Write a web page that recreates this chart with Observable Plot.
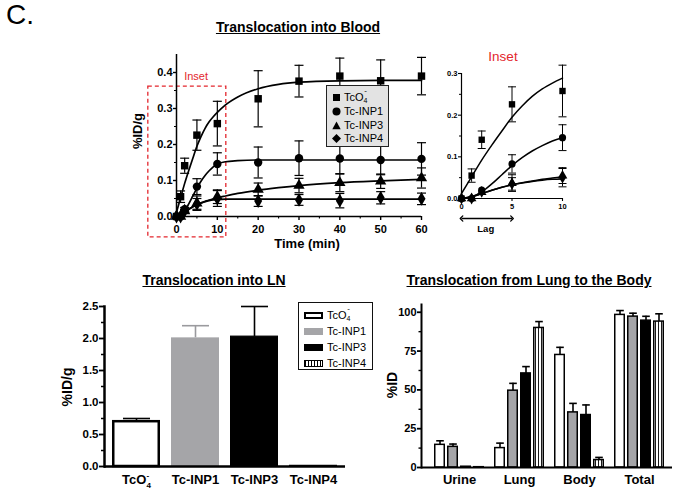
<!DOCTYPE html>
<html><head><meta charset="utf-8">
<script src="https://cdn.jsdelivr.net/npm/d3@7"></script>
<script src="https://cdn.jsdelivr.net/npm/@observablehq/plot@0.6"></script>
<style>
html,body{margin:0;padding:0;background:#fff;}
#root{position:relative;width:681px;height:493px;overflow:hidden;font-family:"Liberation Sans",Arial,sans-serif;color:#000;}
.abs{position:absolute;}
.abs svg{overflow:visible;}
.title{font-weight:bold;font-size:14px;text-decoration:underline;white-space:nowrap;transform:translate(-50%,-50%);line-height:1;}
.ylab{font-weight:bold;white-space:nowrap;transform:translate(-50%,-50%) rotate(-90deg);line-height:1;}
.xlab{font-weight:bold;white-space:nowrap;transform:translate(-50%,-50%);line-height:1;}
.tc{position:relative;display:inline-block;}
.tc .sub{font-size:7px;position:relative;top:2px;}
.tc .sup{font-size:8px;position:absolute;right:0.5px;top:-5px;}
.leg1{background:#e3e3e3;border:1px solid #222;font-size:11px;box-sizing:border-box;padding-top:5px;}
.leg1 .row{display:flex;align-items:center;height:13.7px;white-space:nowrap;line-height:1;}
.leg1 svg{margin-left:5px;margin-right:3px;}
.leg2{background:#fff;border:1.5px solid #111;font-size:11px;box-sizing:border-box;padding-top:4px;}
.leg2 .row{display:flex;align-items:center;height:16px;white-space:nowrap;line-height:1;}
.leg2 .sw{width:19px;height:7px;box-sizing:border-box;margin-left:5px;margin-right:4px;}
</style></head><body>
<svg width="0" height="0" style="position:absolute"><defs>
<pattern id="stripes" width="3" height="4" patternUnits="userSpaceOnUse"><rect width="3" height="4" fill="white"/><line x1="1.5" y1="0" x2="1.5" y2="4" stroke="black" stroke-width="0.9"/></pattern>
</defs></svg>
<div id="root"></div>
<script>
// ---------- data ----------
const seriesKeys = ["TcO4", "INP1", "INP3", "INP4"];
const seriesLabels = ["TcO4-", "Tc-INP1", "Tc-INP3", "Tc-INP4"];

// Translocation into blood (%ID/g) vs time (min)
const times = [0, 1, 2, 5, 10, 20, 30, 40, 50, 60];
const bloodTcO4 = [0, 0.055, 0.141, 0.226, 0.258, 0.327, 0.376, 0.390, 0.377, 0.390];
const bloodTcO4Err = [0, 0.016, 0.021, 0.042, 0.062, 0.078, 0.044, 0.050, 0.058, 0.052];
const bloodINP1 = [0, 0, 0.020, 0.083, 0.146, 0.150, 0.162, 0.161, 0.157, 0.160];
const bloodINP1Err = [0, 0, 0.005, 0.022, 0.031, 0.043, 0.048, 0.043, 0.041, 0.045];
const bloodINP3 = [0, 0, 0.015, 0.037, 0.055, 0.075, 0.086, 0.094, 0.098, 0.107];
const bloodINP3Err = [0, 0, 0.004, 0.020, 0.019, 0.018, 0.020, 0.025, 0.020, 0.028];
const bloodINP4 = [0, 0, 0.016, 0.035, 0.050, 0.043, 0.046, 0.044, 0.052, 0.049];
const bloodINP4Err = [0, 0, 0.004, 0.015, 0.022, 0.015, 0.015, 0.020, 0.017, 0.016];

// fitted curves
const fitTimes = [0, 1, 2, 3, 4, 5, 6, 7, 8, 9, 10, 12, 15, 20, 25, 30, 40, 50, 60];
const fitTcO4 = [0.012, 0.052, 0.092, 0.128, 0.162, 0.195, 0.222, 0.245, 0.263, 0.277, 0.289, 0.310, 0.332, 0.355, 0.367, 0.373, 0.377, 0.378, 0.378];
const fitINP1 = [0, 0.004, 0.016, 0.035, 0.057, 0.079, 0.098, 0.114, 0.127, 0.138, 0.146, 0.152, 0.155, 0.157, 0.157, 0.157, 0.157, 0.157, 0.157];
const fitINP3 = [0, 0.004, 0.012, 0.020, 0.027, 0.033, 0.038, 0.042, 0.046, 0.049, 0.052, 0.057, 0.064, 0.073, 0.080, 0.086, 0.094, 0.099, 0.103];
const fitINP4 = [0, 0.004, 0.012, 0.020, 0.027, 0.033, 0.037, 0.041, 0.044, 0.046, 0.047, 0.048, 0.048, 0.048, 0.048, 0.048, 0.048, 0.048, 0.048];

// Translocation into LN (%ID/g)
const lnValues = [0.70, 2.01, 2.03, 0.01];
const lnErrors = [0.05, 0.19, 0.47, 0];

// Translocation from lung to the body (%ID)
const bodyGroups = ["Urine", "Lung", "Body", "Total"];
const bodyTcO4 = [14.6, 12.5, 72.5, 98.3];
const bodyTcO4Err = [2.6, 3.2, 4.9, 2.8];
const bodyINP1 = [13.3, 49.5, 35.5, 97.2];
const bodyINP1Err = [1.8, 4.7, 5.8, 2.2];
const bodyINP3 = [0.5, 60.6, 33.8, 94.6];
const bodyINP3Err = [0, 4.4, 6.5, 2.8];
const bodyINP4 = [0.2, 89.9, 4.8, 94.0];
const bodyINP4Err = [0, 4.1, 1.7, 5.0];

// ---------- tables ----------
const bloodVals = {TcO4: bloodTcO4, INP1: bloodINP1, INP3: bloodINP3, INP4: bloodINP4};
const bloodErrs = {TcO4: bloodTcO4Err, INP1: bloodINP1Err, INP3: bloodINP3Err, INP4: bloodINP4Err};
const fitVals = {TcO4: fitTcO4, INP1: fitINP1, INP3: fitINP3, INP4: fitINP4};
const bodyVals = {TcO4: bodyTcO4, INP1: bodyINP1, INP3: bodyINP3, INP4: bodyINP4};
const bodyErrs = {TcO4: bodyTcO4Err, INP1: bodyINP1Err, INP3: bodyINP3Err, INP4: bodyINP4Err};

const bloodRows = seriesKeys.flatMap(k => times.map((t, j) => ({series: k, t, v: bloodVals[k][j], e: bloodErrs[k][j]})));
const fitRows = seriesKeys.flatMap(k => fitTimes.map((t, j) => ({series: k, t, v: fitVals[k][j]})));
const lnRows = seriesKeys.map((k, i) => ({series: k, v: lnValues[i], e: lnErrors[i]}));
const bodyRows = bodyGroups.flatMap((g, gi) => seriesKeys.map(k => ({group: g, series: k, v: bodyVals[k][gi], e: bodyErrs[k][gi]})));
const labelOf = Object.fromEntries(seriesKeys.map((k, i) => [k, seriesLabels[i]]));

// ---------- styling helpers ----------
const FONT = "'Liberation Sans', Arial, Helvetica, sans-serif";
const plotStyle = {fontFamily: FONT, background: "transparent", overflow: "visible", color: "black"};
const RED = "#e3262d";
const GRAY = "#a5a5a8";
const seriesSymbols = ["square", "circle", "triangle", "diamond"];
const capSymbol = {draw(ctx, size) { const r = Math.sqrt(size / Math.PI); ctx.moveTo(-r, 0); ctx.lineTo(r, 0); }};
const blank = () => "";

const root = document.getElementById("root");
function place(el, left, top, w, h) {
  const d = document.createElement("div");
  d.className = "abs";
  d.style.left = left + "px"; d.style.top = top + "px";
  if (w) d.style.width = w + "px";
  if (h) d.style.height = h + "px";
  d.appendChild(el); root.appendChild(d); return d;
}
function html(s, left, top) {
  const d = document.createElement("div");
  d.className = "abs"; d.style.left = left + "px"; d.style.top = top + "px";
  d.innerHTML = s; root.appendChild(d); return d;
}
function fixTcO4(svg, fs) {
  const ns = "http://www.w3.org/2000/svg";
  svg.querySelectorAll("text").forEach(t => {
    if (t.textContent === "TcO4-") {
      t.textContent = "TcO";
      const s1 = document.createElementNS(ns, "tspan");
      s1.setAttribute("dy", fs * 0.3); s1.setAttribute("font-size", fs * 0.62); s1.textContent = "4";
      const s2 = document.createElementNS(ns, "tspan");
      s2.setAttribute("dx", -fs * 0.33); s2.setAttribute("dy", -fs * 0.72); s2.setAttribute("font-size", fs * 0.62); s2.textContent = "-";
      t.appendChild(s1); t.appendChild(s2);
    }
  });
}

// ---------- main blood chart ----------
const insetBox = {x1: -6.9, x2: 12.2, y1: -0.058, y2: 0.361};
const mainPlot = Plot.plot({
  width: 320, height: 215, marginLeft: 56, marginRight: 19, marginTop: 14, marginBottom: 39,
  style: plotStyle,
  x: {domain: [0, 60]},
  y: {domain: [0, 0.45]},
  symbol: {domain: seriesKeys, range: seriesSymbols},
  marks: [
    Plot.rect([insetBox], {x1: "x1", x2: "x2", y1: "y1", y2: "y2", fill: "none", stroke: RED, strokeWidth: 1.3, strokeDasharray: "4,3"}),
    Plot.text(["Inset"], {x: 4.8, y: 0.389, fill: RED, fontSize: 11}),
    Plot.line(fitRows, {x: "t", y: "v", z: "series", stroke: "black", strokeWidth: 1.7, curve: "monotone-x"}),
    Plot.ruleX(bloodRows.filter(d => d.e > 0), {x: "t", y1: d => d.v - d.e, y2: d => d.v + d.e, stroke: "black", strokeWidth: 1.2}),
    Plot.dot(bloodRows.filter(d => d.e > 0), {x: "t", y: d => d.v + d.e, symbol: capSymbol, r: 4.5, fill: "none", stroke: "black", strokeWidth: 1.2}),
    Plot.dot(bloodRows.filter(d => d.e > 0), {x: "t", y: d => d.v - d.e, symbol: capSymbol, r: 4.5, fill: "none", stroke: "black", strokeWidth: 1.2}),
    Plot.dot(bloodRows, {x: "t", y: "v", symbol: "series", r: 4.2, fill: "black"}),
    Plot.ruleY([0], {strokeWidth: 1.5}),
    Plot.ruleX([0], {strokeWidth: 1.5}),
    Plot.axisX({ticks: [0, 10, 20, 30, 40, 50, 60], tickSize: 4, tickPadding: 4.5, fontSize: 11, fontWeight: "bold", label: null, strokeWidth: 1.4}),
    Plot.axisX({ticks: [5, 15, 25, 35, 45, 55], tickSize: 2.5, tickFormat: blank, label: null, strokeWidth: 1.1}),
    Plot.axisY({ticks: [0, 0.1, 0.2, 0.3, 0.4], tickFormat: d3.format(".1f"), tickSize: 3, tickPadding: 1, fontSize: 11, fontWeight: "bold", label: null, strokeWidth: 1.4}),
    Plot.axisY({ticks: [0.05, 0.15, 0.25, 0.35], tickSize: 2, tickFormat: blank, label: null, strokeWidth: 1.1})
  ]
});
place(mainPlot, 120, 40, 320, 215);

// ---------- inset chart ----------
const lagSpan = {x1: 0, x2: 5};
const insetRows = bloodRows.filter(d => d.t <= 10);
const insetFit = fitRows.filter(d => d.t <= 10);
const insetPlot = Plot.plot({
  width: 150, height: 185, marginLeft: 31, marginRight: 18, marginTop: 18, marginBottom: 42,
  style: plotStyle,
  x: {domain: [0, 10]},
  y: {domain: [0, 0.3]},
  symbol: {domain: seriesKeys, range: seriesSymbols},
  marks: [
    Plot.line(insetFit, {x: "t", y: "v", z: "series", stroke: "black", strokeWidth: 1.5, curve: "monotone-x"}),
    Plot.ruleX(insetRows.filter(d => d.e > 0.005), {x: "t", y1: d => d.v - d.e, y2: d => d.v + d.e, stroke: "black", strokeWidth: 1}),
    Plot.dot(insetRows.filter(d => d.e > 0.005), {x: "t", y: d => d.v + d.e, symbol: capSymbol, r: 4, fill: "none", stroke: "black", strokeWidth: 1}),
    Plot.dot(insetRows.filter(d => d.e > 0.005), {x: "t", y: d => d.v - d.e, symbol: capSymbol, r: 4, fill: "none", stroke: "black", strokeWidth: 1}),
    Plot.dot(insetRows, {x: "t", y: "v", symbol: "series", r: 3.6, fill: "black"}),
    Plot.ruleY([0], {strokeWidth: 1.2}),
    Plot.ruleX([0], {strokeWidth: 1.2}),
    Plot.axisX({ticks: [0, 5, 10], tickSize: 3, tickPadding: 2, fontSize: 7.5, fontWeight: "bold", label: null, strokeWidth: 1.1}),
    Plot.axisY({ticks: [0, 0.1, 0.2, 0.3], tickFormat: d3.format(".1f"), tickSize: 3, tickPadding: 1, fontSize: 7.5, fontWeight: "bold", label: null, strokeWidth: 1.1}),
    Plot.axisY({ticks: [0.05, 0.15, 0.25], tickSize: 2, tickFormat: blank, label: null, strokeWidth: 1}),
    Plot.link([lagSpan], {x1: "x1", x2: "x2", y1: -0.048, y2: -0.048, stroke: "black", strokeWidth: 1.3, markerStart: "arrow-reverse", markerEnd: "arrow"}),
    Plot.text(["Lag"], {x: 2.4, y: -0.072, fontSize: 9.5, fontWeight: "bold"})
  ]
});
place(insetPlot, 430, 55, 150, 185);

// ---------- LN bar chart ----------
const lnStyle = {
  TcO4: {fill: "white", stroke: "black", sw: 2.5, err: "black"},
  INP1: {fill: GRAY, stroke: "none", sw: 0, err: "#9a9a9e"},
  INP3: {fill: "black", stroke: "black", sw: 1, err: "black"},
  INP4: {fill: "url(#stripes)", stroke: "black", sw: 1.2, err: "black"}
};
const lnErrRows = lnRows.filter(d => d.e > 0);
const lnPlot = Plot.plot({
  width: 310, height: 200, marginLeft: 64, marginRight: 5, marginTop: 16, marginBottom: 24,
  style: plotStyle,
  x: {domain: seriesKeys, paddingInner: 0.18, paddingOuter: 0.12},
  y: {domain: [0, 2.5]},
  marks: [
    Plot.ruleX(lnErrRows, {x: "series", y1: "v", y2: d => d.v + d.e, stroke: d => lnStyle[d.series].err, strokeWidth: 1.6}),
    Plot.dot(lnErrRows, {x: "series", y: d => d.v + d.e, symbol: capSymbol, r: 13.5, fill: "none", stroke: d => lnStyle[d.series].err, strokeWidth: 1.6}),
    ...seriesKeys.map(k => Plot.barY(lnRows, {filter: d => d.series === k, x: "series", y: "v", fill: lnStyle[k].fill, stroke: lnStyle[k].stroke, strokeWidth: lnStyle[k].sw, insetLeft: lnStyle[k].sw / 2, insetRight: lnStyle[k].sw / 2})),
    Plot.ruleY([0], {strokeWidth: 2.5}),
    Plot.frame({anchor: "left", strokeWidth: 2.5}),
    Plot.axisY({ticks: [0, 0.5, 1, 1.5, 2, 2.5], tickFormat: d3.format(".1f"), tickSize: 5, tickPadding: 1, fontSize: 11.5, fontWeight: "bold", label: null, strokeWidth: 1.8}),
    Plot.axisY({ticks: [0.25, 0.75, 1.25, 1.75, 2.25], tickSize: 3, tickFormat: blank, label: null, strokeWidth: 1.5}),
    Plot.axisX({tickSize: 0, tickPadding: 8, fontSize: 13, fontWeight: "bold", label: null, tickFormat: k => labelOf[k]})
  ]
});
fixTcO4(lnPlot, 13);
place(lnPlot, 40, 290, 310, 200);

// ---------- body chart: axes layer ----------
const bodyAxes = Plot.plot({
  width: 311, height: 200, marginLeft: 51, marginRight: 9, marginTop: 14, marginBottom: 23,
  style: plotStyle,
  y: {domain: [0, 105]},
  marks: [
    Plot.axisY({ticks: [0, 25, 50, 75, 100], tickSize: 4, tickPadding: 1, fontSize: 11, fontWeight: "bold", label: null, strokeWidth: 1.8}),
    Plot.axisY({ticks: [12.5, 37.5, 62.5, 87.5], tickSize: 2.5, tickFormat: blank, label: null, strokeWidth: 1.4})
  ]
});
// body chart: bars layer
const bodyBars = Plot.plot({
  width: 311, height: 200, marginLeft: 51, marginRight: 9, marginTop: 14, marginBottom: 23,
  style: plotStyle,
  fx: {domain: bodyGroups, paddingInner: 0, paddingOuter: 0.067, align: 0.755, label: null},
  x: {domain: seriesKeys, paddingInner: 0.15, paddingOuter: 0.28, axis: null},
  y: {domain: [0, 105], axis: null},
  color: {domain: seriesKeys, range: ["white", GRAY, "black", "url(#stripes)"]},
  marks: [
    Plot.ruleX(bodyRows.filter(d => d.e > 0), {fx: "group", x: "series", y1: "v", y2: d => d.v + d.e, stroke: "black", strokeWidth: 1.6}),
    Plot.dot(bodyRows.filter(d => d.e > 0), {fx: "group", x: "series", y: d => d.v + d.e, symbol: capSymbol, r: 3.8, fill: "none", stroke: "black", strokeWidth: 1.6}),
    Plot.barY(bodyRows, {fx: "group", x: "series", y: "v", fill: "series", stroke: "black", strokeWidth: 1.5, insetLeft: 0.75, insetRight: 0.75}),
    Plot.axisFx({anchor: "bottom", tickSize: 0, tickPadding: 7, fontSize: 13, fontWeight: "bold", label: null})
  ]
});
const bodyLines = Plot.plot({
  width: 311, height: 200, marginLeft: 51, marginRight: 9, marginTop: 14, marginBottom: 23,
  style: plotStyle,
  y: {domain: [0, 105], axis: null},
  marks: [Plot.ruleY([0], {strokeWidth: 2}), Plot.frame({anchor: "left", strokeWidth: 2})]
});
place(bodyBars, 370, 290, 311, 200);
place(bodyAxes, 370, 290, 311, 200);
place(bodyLines, 370, 290, 311, 200);

// ---------- text: titles, labels ----------
html('<div style="font-size:28px;line-height:1;">C.</div>', 6, 1);
html('<div class="title">Translocation into Blood</div>', 298, 27);
html('<div class="title">Translocation into LN</div>', 214, 280);
html('<div class="title">Translocation from Lung to the Body</div>', 529, 280);
html('<div class="ylab" style="font-size:13px">%ID/g</div>', 137, 131);
html('<div class="xlab" style="font-size:13px">Time (min)</div>', 307, 243);
html('<div class="ylab" style="font-size:14px">%ID/g</div>', 67, 387);
html('<div class="ylab" style="font-size:14px">%ID</div>', 392, 385);
html('<div class="xlab" style="font-size:13.5px;font-weight:normal;color:' + RED + '">Inset</div>', 503, 57);

// ---------- legends ----------
const tcLabel = '<span class="tc">TcO<span class="sub">4</span><span class="sup">-</span></span>';
const symSvg = [
  '<svg width="9" height="9"><rect x="1" y="1" width="7" height="7" fill="black"/></svg>',
  '<svg width="9" height="9"><circle cx="4.5" cy="4.5" r="4" fill="black"/></svg>',
  '<svg width="9" height="9"><path d="M4.5,0.5L8.7,8.2L0.3,8.2Z" fill="black"/></svg>',
  '<svg width="9" height="9"><path d="M4.5,0L9,4.5L4.5,9L0,4.5Z" fill="black"/></svg>'
];
const leg1Labels = [tcLabel, "Tc-INP1", "Tc-INP3", "Tc-INP4"];
html('<div class="leg1" style="width:63px;height:62px;">' +
  seriesKeys.map((k, i) => '<div class="row">' + symSvg[i] + '<span>' + leg1Labels[i] + '</span></div>').join("") + '</div>', 326, 85);

const swStyle = [
  "background:#fff;border:2px solid #000;",
  "background:" + GRAY + ";",
  "background:#000;",
  "background:repeating-linear-gradient(90deg,#000 0,#000 1px,#fff 1px,#fff 3px);border:1px solid #000;"
];
html('<div class="leg2" style="width:75px;height:68px;">' +
  seriesKeys.map((k, i) => '<div class="row"><div class="sw" style="' + swStyle[i] + '"></div><span>' + leg1Labels[i] + '</span></div>').join("") + '</div>', 298, 302);
</script>
</body></html>
